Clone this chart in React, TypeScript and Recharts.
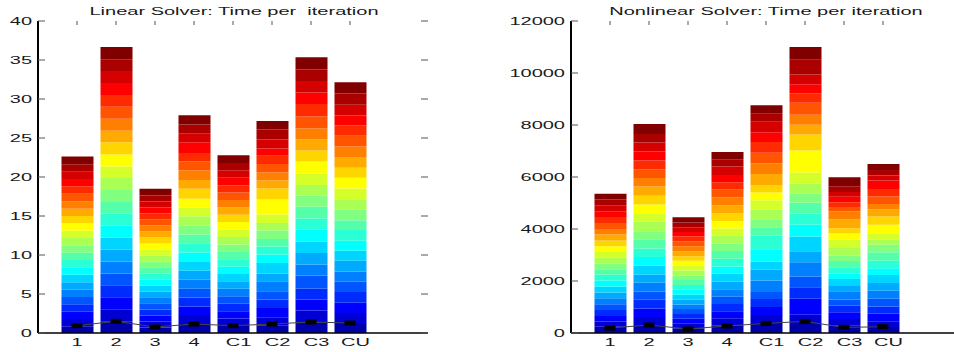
import { Bar, ComposedChart, Line, XAxis, YAxis } from "recharts";

// bar positions on the x axis (xlim is 0..10) and their labels
const positions = [1, 2, 3, 4, 5, 6, 7, 8];
const categories = ["1", "2", "3", "4", "  C1", "  C2", "  C3", "  CU"];

const linearTicks = [0, 5, 10, 15, 20, 25, 30, 35, 40];
const nonlinearTicks = [0, 2000, 4000, 6000, 8000, 10000, 12000];

// 24 stacked pieces per bar, bottom first
const linearSegments = [
  [0.86, 0.94, 0.94, 0.94, 0.94, 0.94, 0.94, 0.98, 0.94, 0.94, 0.94, 0.94, 0.94, 0.94, 0.94, 0.94, 0.94, 0.94, 0.98, 0.94, 0.94, 0.94, 0.94, 1.02],
  [1.5, 1.54, 1.54, 1.54, 1.5, 1.54, 1.54, 1.5, 1.54, 1.54, 1.5, 1.54, 1.54, 1.5, 1.54, 1.54, 1.5, 1.54, 1.54, 1.5, 1.54, 1.54, 1.5, 1.56],
  [0.7, 0.77, 0.77, 0.77, 0.79, 0.77, 0.75, 0.77, 0.77, 0.77, 0.79, 0.77, 0.75, 0.77, 0.77, 0.77, 0.77, 0.79, 0.77, 0.75, 0.77, 0.77, 0.77, 0.85],
  [1.15, 1.15, 1.11, 1.15, 1.11, 1.15, 1.15, 1.24, 1.11, 1.2, 1.11, 1.15, 1.2, 1.07, 1.15, 1.28, 1.15, 1.24, 1.15, 1.07, 1.37, 1.15, 1.11, 1.2],
  [0.9, 0.95, 0.95, 0.95, 0.95, 0.97, 0.95, 0.95, 0.93, 0.95, 0.95, 0.95, 0.95, 0.97, 0.95, 0.95, 0.93, 0.95, 0.95, 0.95, 0.95, 0.95, 0.95, 0.99],
  [0.94, 1.07, 1.2, 1.07, 1.07, 1.28, 0.98, 1.37, 1.07, 1.03, 0.98, 1.07, 0.98, 1.07, 1.92, 1.41, 1.03, 1.03, 1.11, 1.03, 0.94, 1.15, 1.28, 1.11],
  [1.37, 1.5, 1.41, 1.41, 1.67, 1.41, 1.5, 1.45, 1.54, 1.41, 1.5, 1.45, 1.37, 1.45, 1.54, 1.41, 1.41, 1.41, 1.54, 1.62, 1.45, 1.5, 1.45, 1.58],
  [1.28, 1.28, 1.32, 1.37, 1.32, 1.32, 1.37, 1.28, 1.28, 1.37, 1.28, 1.32, 1.37, 1.37, 1.37, 1.28, 1.37, 1.37, 1.37, 1.32, 1.28, 1.37, 1.45, 1.45],
];
const linearMarkers = [0.94, 1.5, 0.77, 1.15, 0.94, 1.15, 1.41, 1.28];

const nonlinearSegments = [
  [240, 200, 210, 230, 230, 230, 218, 230, 230, 218, 218, 218, 230, 218, 218, 218, 230, 218, 230, 230, 218, 230, 218, 230],
  [307, 307, 333, 333, 320, 333, 307, 346, 333, 333, 333, 333, 358, 333, 333, 333, 358, 333, 333, 333, 346, 346, 333, 384],
  [179, 179, 192, 179, 192, 179, 192, 179, 192, 179, 192, 179, 192, 179, 192, 179, 192, 192, 179, 192, 179, 179, 179, 205],
  [282, 282, 269, 282, 282, 282, 294, 307, 282, 294, 294, 294, 294, 282, 282, 294, 320, 294, 320, 269, 282, 320, 282, 282],
  [384, 307, 307, 307, 269, 448, 410, 307, 486, 525, 320, 282, 384, 371, 294, 294, 422, 410, 410, 410, 371, 410, 307, 320],
  [350, 350, 620, 440, 410, 550, 420, 576, 450, 430, 410, 346, 384, 435, 845, 614, 384, 384, 461, 358, 346, 384, 563, 490],
  [280, 260, 260, 250, 240, 320, 200, 270, 200, 250, 240, 210, 294, 320, 230, 205, 333, 307, 179, 179, 218, 179, 218, 346],
  [230, 218, 294, 282, 294, 307, 294, 307, 269, 294, 320, 282, 192, 256, 320, 320, 282, 205, 282, 294, 320, 192, 218, 230],
];
const nonlinearMarkers = [192, 307, 154, 269, 370, 446, 215, 242];

// jet(24)
const jet = [
  "#0000aa", "#0000d5", "#0000ff", "#002bff", "#0055ff", "#0080ff",
  "#00aaff", "#00d5ff", "#00ffff", "#2bffd5", "#55ffaa", "#80ff80",
  "#aaff55", "#d5ff2b", "#ffff00", "#ffd500", "#ffaa00", "#ff8000",
  "#ff5500", "#ff2b00", "#ff0000", "#d50000", "#aa0000", "#800000",
];

const FONT = '"Liberation Sans", Arial, Helvetica, sans-serif';
const PLOT_W = 390;
const PLOT_TOP = 21;
const STRETCH = 2;
const PAD_LEFT = 62; // room for the stretched tick labels

function buildRows(segments: number[][], markers: number[]) {
  return positions.map((x, i) => {
    const row: Record<string, number> = { x, marker: markers[i] };
    segments[i].forEach((v, k) => {
      row[`s${k}`] = v;
    });
    return row;
  });
}

const YTick = ({ x, y, payload }: any) => (
  <g>
    <text
      transform={`translate(${x},${y}) scale(${STRETCH},1)`}
      textAnchor="end"
      dy="0.35em"
      fontSize={10}
      fontFamily={FONT}
      fill="#1a1a1a"
    >
      {payload.value}
    </text>
    <line x1={x + 6} x2={x + 13} y1={y} y2={y} stroke="#555" />
    <line x1={x + 6 + PLOT_W - 7} x2={x + 6 + PLOT_W} y1={y} y2={y} stroke="#555" />
  </g>
);

const XTick = ({ x, y, payload }: any) => {
  const label = categories[positions.indexOf(payload.value)];
  return (
    <g>
      <text
        transform={`translate(${x},${y + 12.5}) scale(${STRETCH},1)`}
        textAnchor="middle"
        fontSize={10}
        fontFamily={FONT}
        fill="#1a1a1a"
        style={{ whiteSpace: "pre" }}
      >
        {label}
      </text>
      <line x1={x} x2={x} y1={PLOT_TOP} y2={PLOT_TOP + 4} stroke="#555" />
    </g>
  );
};

const markerDot = (props: any) => (
  <rect
    key={`m-${props.index}`}
    x={props.cx - 5.5}
    y={props.cy - 2.5}
    width={11}
    height={5}
    fill="#000"
  />
);

type PanelProps = {
  rows: Record<string, number>[];
  yMax: number;
  yTicks: number[];
};

const Panel = ({ rows, yMax, yTicks }: PanelProps) => (
  <ComposedChart
    width={PAD_LEFT + 38 + PLOT_W + 12}
    height={352}
    data={rows}
    margin={{ top: PLOT_TOP, right: 12, bottom: 0, left: PAD_LEFT }}
  >
    <XAxis
      dataKey="x"
      type="number"
      domain={[0, 10]}
      ticks={positions}
      interval={0}
      height={19}
      tickSize={0}
      tickMargin={0}
      tickLine={false}
      axisLine={{ stroke: "#000", strokeWidth: 1.5 }}
      tick={<XTick />}
    />
    <XAxis
      xAxisId="top"
      orientation="top"
      dataKey="x"
      type="number"
      domain={[0, 10]}
      height={0}
      tick={false}
      tickLine={false}
      axisLine={{ stroke: "#666" }}
    />
    <YAxis
      type="number"
      domain={[0, yMax]}
      ticks={yTicks}
      width={38}
      tickSize={0}
      tickMargin={6}
      tickLine={false}
      axisLine={{ stroke: "#000", strokeWidth: 2 }}
      tick={<YTick />}
    />
    <YAxis
      yAxisId="right"
      orientation="right"
      type="number"
      domain={[0, yMax]}
      width={0}
      tick={false}
      tickLine={false}
      axisLine={{ stroke: "#333" }}
    />
    {jet.map((color, k) => (
      <Bar
        key={`s${k}`}
        dataKey={`s${k}`}
        stackId="a"
        fill={color}
        barSize={32}
        isAnimationActive={false}
      />
    ))}
    <Line
      dataKey="marker"
      stroke="#444"
      strokeWidth={1}
      dot={markerDot}
      activeDot={false}
      isAnimationActive={false}
    />
  </ComposedChart>
);

const titleStyle = (center: number): React.CSSProperties => ({
  position: "absolute",
  left: center,
  top: 5.5,
  fontSize: 10,
  lineHeight: "12px",
  fontFamily: FONT,
  color: "#1a1a1a",
  whiteSpace: "pre",
  transform: `translateX(-50%) scaleX(${STRETCH})`,
});

export default function App() {
  return (
    <div
      style={{
        position: "absolute",
        left: 0,
        top: 0,
        width: 954,
        height: 352,
        overflow: "hidden",
        background: "#fff",
      }}
    >
      <div style={{ position: "absolute", left: -PAD_LEFT, top: 0 }}>
        <Panel rows={buildRows(linearSegments, linearMarkers)} yMax={40} yTicks={linearTicks} />
      </div>
      <div style={{ position: "absolute", left: 533 - PAD_LEFT, top: 0 }}>
        <Panel
          rows={buildRows(nonlinearSegments, nonlinearMarkers)}
          yMax={12000}
          yTicks={nonlinearTicks}
        />
      </div>
      <div style={titleStyle(234)}>Linear Solver: Time per  iteration</div>
      <div style={titleStyle(766)}>Nonlinear Solver: Time per iteration</div>
    </div>
  );
}
